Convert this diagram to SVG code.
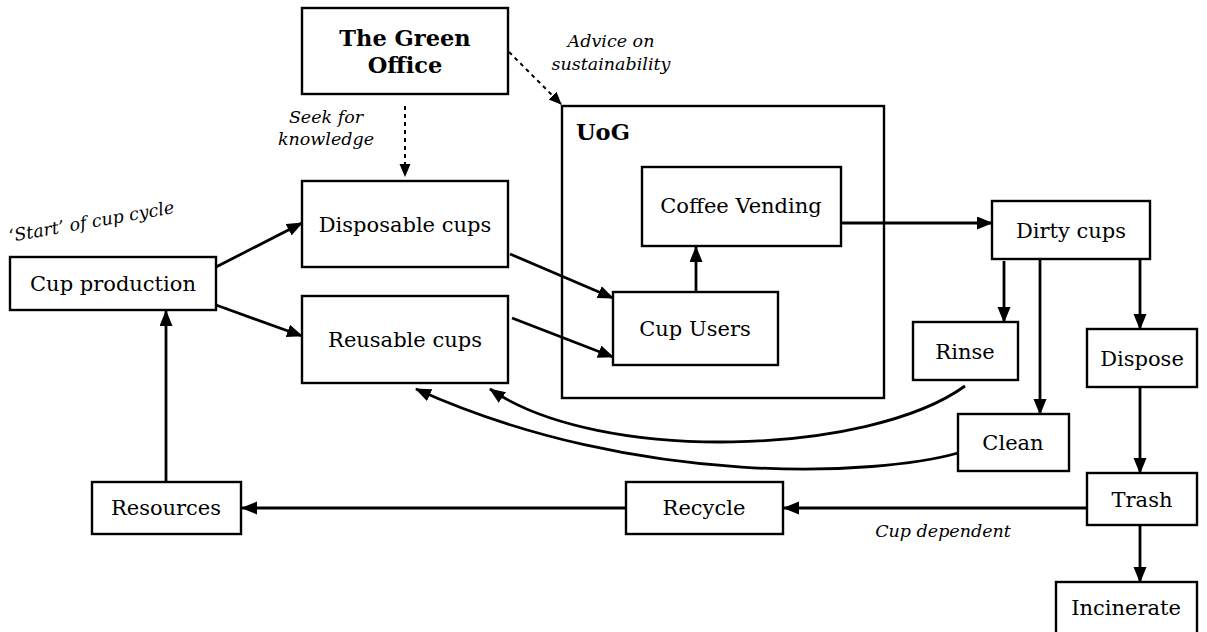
<svg xmlns="http://www.w3.org/2000/svg" width="1207" height="632" viewBox="0 0 1207 632">
<defs>
<style>
.box{fill:#fff;stroke:#000;stroke-width:2.4}
.t{font-family:"DejaVu Serif","Liberation Serif",serif;font-size:21px;fill:#000;text-anchor:middle}
.b{font-weight:bold;font-size:22.5px}
.i{font-family:"DejaVu Serif","Liberation Serif",serif;font-style:italic;font-size:17.5px;fill:#000}
.c{fill:none;stroke:#000;stroke-width:2.8}
.d{fill:none;stroke:#000;stroke-width:2;stroke-dasharray:4 4}
</style>
<marker id="a" markerUnits="userSpaceOnUse" markerWidth="17" markerHeight="14" refX="15" refY="6.5" orient="auto"><path d="M0,0 L16,6.5 L0,13 z" fill="#000"/></marker>
<marker id="s" markerUnits="userSpaceOnUse" markerWidth="14" markerHeight="12" refX="12" refY="5.5" orient="auto"><path d="M0,0 L13,5.5 L0,11 z" fill="#000"/></marker>
</defs>
<rect width="1207" height="632" fill="#fff"/>
<g id="uog"><rect class="box" x="562" y="106" width="322" height="292"/><text class="t b" x="576" y="140" style="text-anchor:start">UoG</text></g>
<g id="connectors">
<line class="d" x1="405" y1="106" x2="405" y2="176" marker-end="url(#s)"/>
<line class="d" x1="509" y1="52" x2="561" y2="104" marker-end="url(#s)"/>
<line class="c" x1="216" y1="267" x2="302" y2="223" marker-end="url(#a)"/>
<line class="c" x1="216" y1="305" x2="302" y2="336" marker-end="url(#a)"/>
<line class="c" x1="510" y1="254" x2="613" y2="298" marker-end="url(#a)"/>
<line class="c" x1="512" y1="318" x2="613" y2="357" marker-end="url(#a)"/>
<line class="c" x1="696" y1="292" x2="696" y2="247" marker-end="url(#a)"/>
<line class="c" x1="841" y1="223" x2="992" y2="223" marker-end="url(#a)"/>
<line class="c" x1="1004" y1="261" x2="1004" y2="322" marker-end="url(#a)"/>
<line class="c" x1="1040" y1="259" x2="1040" y2="414" marker-end="url(#a)"/>
<line class="c" x1="1140" y1="259" x2="1140" y2="329" marker-end="url(#a)"/>
<line class="c" x1="1140" y1="387" x2="1140" y2="473" marker-end="url(#a)"/>
<line class="c" x1="1140" y1="525" x2="1140" y2="582" marker-end="url(#a)"/>
<line class="c" x1="1087" y1="508" x2="784" y2="508" marker-end="url(#a)"/>
<line class="c" x1="626" y1="508" x2="242" y2="508" marker-end="url(#a)"/>
<line class="c" x1="166" y1="482" x2="166" y2="311" marker-end="url(#a)"/>
<path class="c" d="M965,386 C870,455 600,465 490,389" marker-end="url(#a)"/>
<path class="c" d="M958,453 C880,475 640,490 416,389" marker-end="url(#a)"/>
</g>
<g id="green-office"><rect class="box" x="302" y="8" width="206" height="86"/><text class="t b" x="405" y="46">The Green</text><text class="t b" x="405" y="73">Office</text></g>
<g id="disposable"><rect class="box" x="302" y="181" width="206" height="86"/><text class="t" x="405" y="232">Disposable cups</text></g>
<g id="reusable"><rect class="box" x="302" y="296" width="206" height="87"/><text class="t" x="405" y="347">Reusable cups</text></g>
<g id="cup-production"><rect class="box" x="10" y="257" width="206" height="53"/><text class="t" x="113" y="291">Cup production</text></g>
<g id="coffee-vending"><rect class="box" x="642" y="167" width="199" height="79"/><text class="t" x="741" y="213">Coffee Vending</text></g>
<g id="cup-users"><rect class="box" x="613" y="292" width="165" height="73"/><text class="t" x="695" y="336">Cup Users</text></g>
<g id="dirty-cups"><rect class="box" x="992" y="201" width="158" height="58"/><text class="t" x="1071" y="238">Dirty cups</text></g>
<g id="rinse"><rect class="box" x="913" y="322" width="105" height="58"/><text class="t" x="965" y="359">Rinse</text></g>
<g id="clean"><rect class="box" x="958" y="414" width="111" height="57"/><text class="t" x="1013" y="450">Clean</text></g>
<g id="dispose"><rect class="box" x="1087" y="329" width="110" height="58"/><text class="t" x="1142" y="366">Dispose</text></g>
<g id="trash"><rect class="box" x="1087" y="473" width="110" height="52"/><text class="t" x="1142" y="507">Trash</text></g>
<g id="incinerate"><rect class="box" x="1056" y="582" width="141" height="60"/><text class="t" x="1126" y="615">Incinerate</text></g>
<g id="recycle"><rect class="box" x="626" y="482" width="157" height="52"/><text class="t" x="704" y="515">Recycle</text></g>
<g id="resources"><rect class="box" x="92" y="482" width="149" height="52"/><text class="t" x="166" y="515">Resources</text></g>
<g id="labels">
<text class="i" x="611" y="47" text-anchor="middle">Advice on</text>
<text class="i" x="611" y="70" text-anchor="middle">sustainability</text>
<text class="i" x="326" y="123" text-anchor="middle">Seek for</text>
<text class="i" x="326" y="145" text-anchor="middle">knowledge</text>
<text class="i" x="10" y="242" transform="rotate(-10 10 242)">‘Start’ of cup cycle</text>
<text class="i" x="943" y="537" text-anchor="middle">Cup dependent</text>
</g>
</svg>
